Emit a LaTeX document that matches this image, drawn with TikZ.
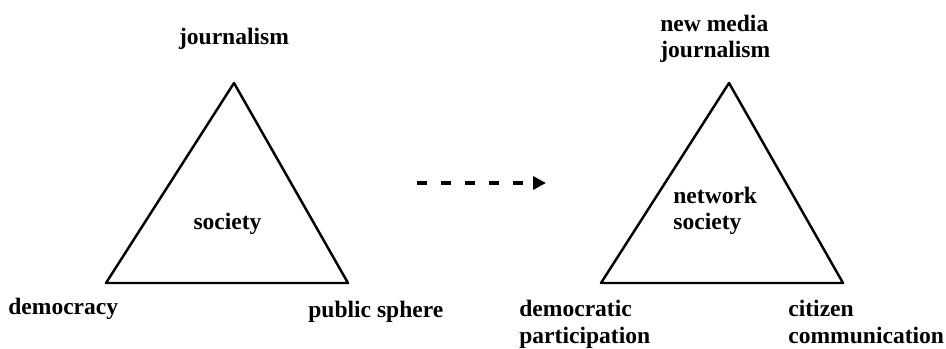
\documentclass[tikz,border=0pt]{standalone}
\usepackage{fontspec}
\setmainfont{Liberation Serif}
\usepackage{tkz-euclide}
\usetikzlibrary{arrows.meta}
\tikzset{>=stealth}
\tikzset{lbl/.style={font=\bfseries\fontsize{13.4}{14.8}\selectfont, inner sep=0pt, align=left}}

\begin{document}
\begin{tikzpicture}
    \useasboundingbox (0,0) rectangle (18.92,6.96);
    \tkzDefPoints{4.68/5.30/J, 2.12/1.30/D, 6.96/1.30/P}
    \tkzDefPoints{14.58/5.30/N, 12.02/1.30/E, 16.86/1.30/C}
    \tkzDrawPolygon[line width=1.4pt](J,D,P)
    \tkzDrawPolygon[line width=1.4pt](N,E,C)
    \node[lbl, anchor=base] (jour) at (4.68,6.06) {journalism};
    \node[lbl, anchor=base west] (demo) at (0.16,0.66) {democracy};
    \node[lbl, anchor=base west] (pubs) at (6.16,0.62) {public sphere};
    \node[lbl, anchor=base] (soc) at (4.55,2.36) {society};
    \node[lbl, anchor=base west] (nmj) at (13.20,5.80) {new media\\journalism};
    \node[lbl, anchor=base west] (netsoc) at (13.46,2.36) {network\\society};
    \node[lbl, anchor=base west] (dempart) at (10.38,0.10) {democratic\\participation};
    \node[lbl, anchor=base west] (citcom) at (15.76,0.10) {citizen\\communication};
    \coordinate (from) at (8.34,3.30);
    \coordinate (to) at (10.92,3.30);
    \draw[line width=2.2pt, dash pattern=on 0.2cm off 0.28cm, -{Triangle[length=0.26cm, width=0.26cm]}] (from) -- (to);
\end{tikzpicture}
\end{document}
